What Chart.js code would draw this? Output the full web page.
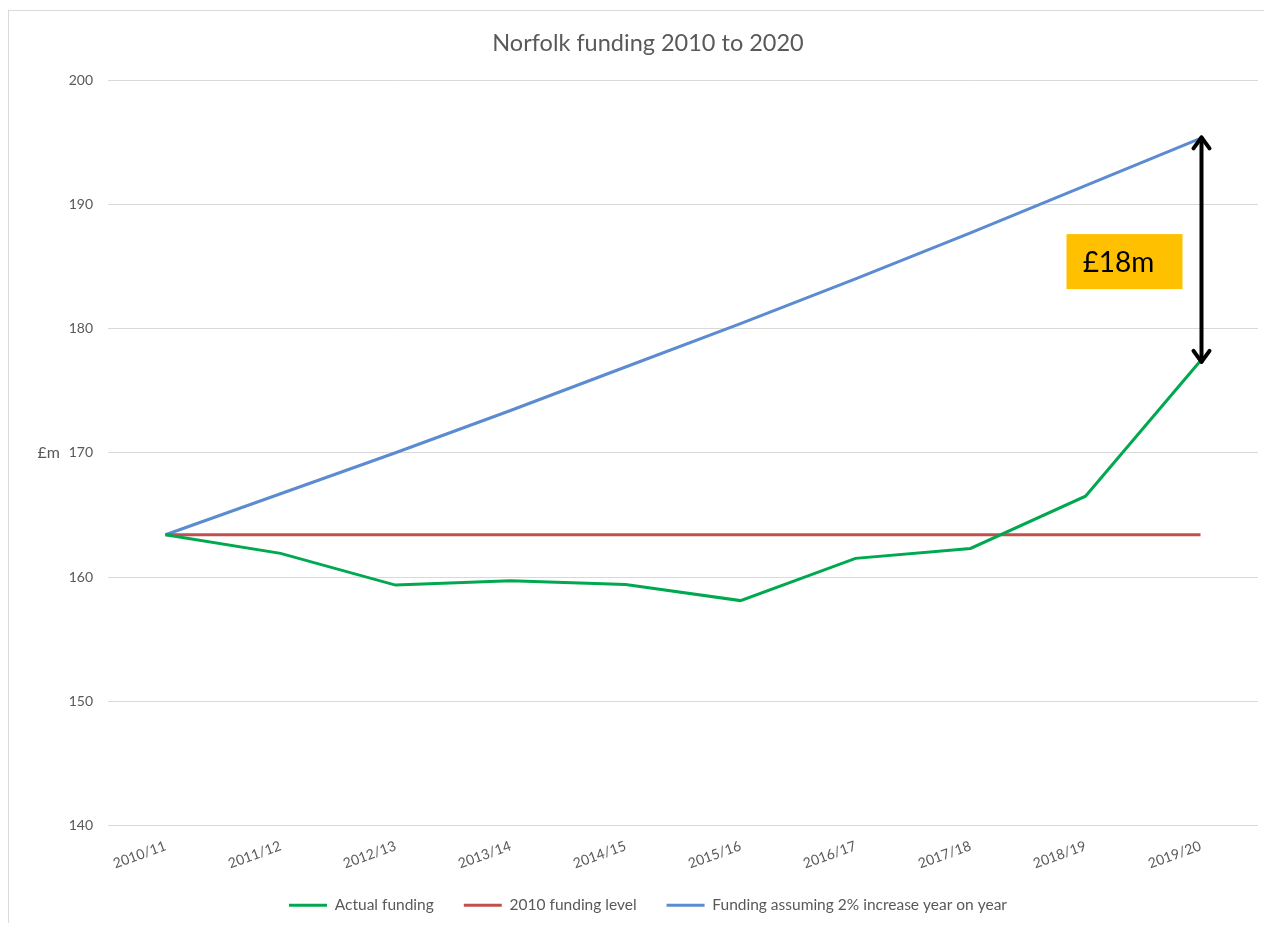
<!DOCTYPE html>
<html>
<head>
<meta charset="utf-8">
<script src="https://cdn.jsdelivr.net/npm/chart.js@4.4.0/dist/chart.umd.min.js"></script>
<style>
  body { margin: 0; background: #fff; overflow: hidden; }
  #wrap { position: absolute; left: 8px; top: 10px; width: 1256px; height: 912px; border: 1px solid #d9d9d9; border-bottom: none; }
  canvas { display: block; }
</style>
</head>
<body>
<div id="wrap"><canvas id="grafico" width="1256" height="912"></canvas></div>
<script>
// dados
const anos = ["2010/11", "2011/12", "2012/13", "2013/14", "2014/15", "2015/16", "2016/17", "2017/18", "2018/19", "2019/20"];
const actualFunding = [163.4, 161.9, 159.35, 159.7, 159.4, 158.1, 161.5, 162.3, 166.5, 177.4];
const level2010 = [163.4, 163.4, 163.4, 163.4, 163.4, 163.4, 163.4, 163.4, 163.4, 163.4];
const twoPercent = [163.4, 166.7, 170.0, 173.4, 176.9, 180.4, 184.0, 187.7, 191.5, 195.3];
const gapLabel = "£18m";
const yTitle = "£m";

const cinza = "#595959";
const fonte = "Lato, 'Open Sans', sans-serif";

// desenha o rótulo £m, a seta dupla e a caixa laranja
const anotacoes = {
  id: "anotacoes",
  afterDatasetsDraw(chart) {
    const { ctx, chartArea, scales } = chart;
    const x = scales.x, y = scales.y;
    ctx.save();

    // título do eixo y (horizontal)
    ctx.fillStyle = cinza;
    ctx.font = "16px " + fonte;
    ctx.textAlign = "right";
    ctx.textBaseline = "middle";
    ctx.fillText(yTitle, 51, (chartArea.top + chartArea.bottom) / 2);

    // seta
    const last = anos.length - 1;
    const ax = x.getPixelForValue(last) + 1;
    const yTop = y.getPixelForValue(twoPercent[last]) - 2;
    const yBot = y.getPixelForValue(actualFunding[last]) + 2;
    ctx.strokeStyle = "#000";
    ctx.lineWidth = 4;
    ctx.lineCap = "round";
    ctx.lineJoin = "round";
    ctx.beginPath();
    ctx.moveTo(ax, yTop + 1);
    ctx.lineTo(ax, yBot - 1);
    ctx.stroke();
    ctx.beginPath();
    ctx.moveTo(ax - 8, yTop + 12);
    ctx.lineTo(ax, yTop + 1);
    ctx.lineTo(ax + 8, yTop + 12);
    ctx.moveTo(ax - 8, yBot - 12);
    ctx.lineTo(ax, yBot - 1);
    ctx.lineTo(ax + 8, yBot - 12);
    ctx.stroke();

    // caixa laranja
    const bw = 116, bh = 55;
    const bx = ax - 19 - bw;
    const by = (yTop + yBot) / 2 + 12 - bh / 2;
    ctx.fillStyle = "#FFC000";
    ctx.fillRect(bx, by, bw, bh);
    ctx.fillStyle = "#000";
    ctx.font = "28px " + fonte;
    ctx.textAlign = "center";
    ctx.fillText(gapLabel, bx + bw / 2 - 6, by + bh / 2 + 1);

    ctx.restore();
  }
};

Chart.defaults.font.family = fonte;
Chart.defaults.color = cinza;

const ctx = document.getElementById("grafico").getContext("2d");
new Chart(ctx, {
  type: "line",
  data: {
    labels: anos,
    datasets: [
      { label: "Actual funding", data: actualFunding, borderColor: "#00A84F", backgroundColor: "#00A84F", borderWidth: 3, pointRadius: 0, tension: 0 },
      { label: "2010 funding level", data: level2010, borderColor: "#C0504D", backgroundColor: "#C0504D", borderWidth: 3, pointRadius: 0, tension: 0 },
      { label: "Funding assuming 2% increase year on year", data: twoPercent, borderColor: "#5B8BD0", backgroundColor: "#5B8BD0", borderWidth: 3, pointRadius: 0, tension: 0 }
    ]
  },
  options: {
    responsive: false,
    animation: false,
    layout: { padding: { left: 29, right: 7, top: 0, bottom: 0 } },
    plugins: {
      title: {
        display: true,
        text: "Norfolk funding 2010 to 2020",
        color: cinza,
        font: { size: 23.5, weight: "normal" },
        padding: { top: 17.9, bottom: 22.9 }
      },
      legend: {
        position: "bottom",
        labels: {
          boxWidth: 38,
          boxHeight: 3,
          padding: 30,
          color: cinza,
          font: { size: 15.5 },
          generateLabels: chart => Chart.defaults.plugins.legend.labels.generateLabels(chart)
            .map(l => ({ ...l, lineWidth: 0, fillStyle: l.strokeStyle }))
        }
      },
      tooltip: { enabled: false }
    },
    scales: {
      x: {
        offset: true,
        grid: { display: false, drawTicks: false },
        border: { display: false },
        ticks: { minRotation: 20, maxRotation: 20, padding: 12, font: { size: 14 }, color: cinza },
        afterFit: s => {
          s.height = 42;
          // rótulos girados passam da caixa do eixo, então não recortar
          s._computeLabelArea = () => undefined;
        }
      },
      y: {
        min: 140,
        max: 200,
        grid: { color: "#d9d9d9", lineWidth: 1, drawTicks: false },
        border: { display: false },
        ticks: { stepSize: 10, padding: 15, font: { size: 14 }, color: cinza },
        afterFit: s => { s.width = 70; }
      }
    }
  },
  plugins: [anotacoes]
});
</script>
</body>
</html>
